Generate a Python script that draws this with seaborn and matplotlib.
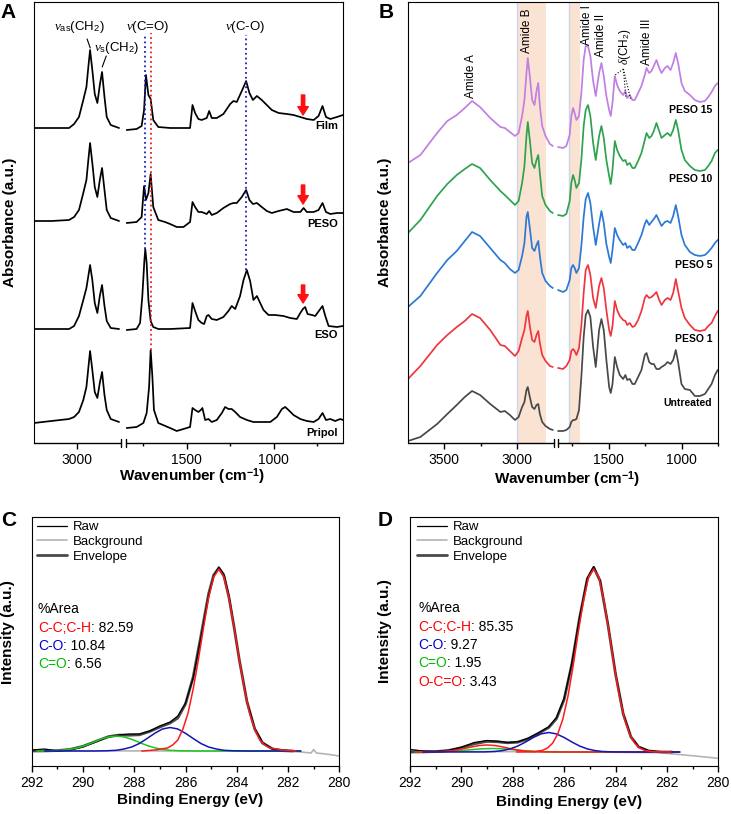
import numpy as np
import pandas as pd
import matplotlib
matplotlib.use("Agg")
import matplotlib.pyplot as plt
import seaborn as sns

# ---------------- Panel A: FTIR, Pripol / ESO / PESO / Film ----------------
a_left_wn = [3250, 3150, 3048, 3019, 2991, 2966, 2948, 2937, 2927, 2914, 2900,
             2885, 2871, 2858, 2844, 2831, 2808, 2760]
film_left = [0, 0, 0, 4, 11, 28, 41, 61, 78, 58, 34, 25, 43, 56, 31, 11, 3, 0]
peso_left = [0, 0, 1, 4, 11, 28, 41, 61, 78, 58, 34, 24, 41, 53, 31, 11, 3, 0]
eso_left = [0, 0, 0, 3, 13, 29, 41, 53, 64, 49, 26, 16, 33, 44, 23, 8, 1, 0]
pripol_left = [1, 3, 5, 7, 12, 24, 37, 56, 73, 54, 32, 26, 41, 52, 29, 14, 5, 2]

film_right_wn = [1846, 1789, 1760, 1746, 1735, 1721, 1708, 1693, 1664, 1596, 1481,
                 1467, 1452, 1433, 1414, 1385, 1371, 1356, 1327, 1289, 1250, 1231,
                 1212, 1183, 1158, 1139, 1119, 1096, 1068, 1039, 1010, 971, 923,
                 885, 846, 808, 769, 741, 718, 698, 673, 635, 600]
film_right = [-2, -1, 2, 18, 53, 33, 29, 8, 1, 0, 0, 23, 15, 9, 8, 10, 17, 10, 10,
              14, 24, 27, 26, 37, 47, 35, 28, 32, 28, 23, 18, 15, 14, 13, 11, 9, 8,
              12, 22, 11, 9, 11, 13]

peso_right_wn = [1846, 1789, 1760, 1746, 1735, 1721, 1708, 1693, 1664, 1625, 1596,
                 1558, 1519, 1481, 1467, 1452, 1433, 1414, 1385, 1371, 1356, 1327,
                 1289, 1250, 1231, 1212, 1183, 1158, 1139, 1119, 1096, 1068, 1039,
                 1010, 971, 923, 885, 846, 827, 808, 769, 741, 718, 698, 673, 635, 600]
peso_right = [-2, -1, 4, 35, 21, 28, 47, 14, 1, -1, -3, -6, -6, -1, 19, 14, 9, 9, 7,
              10, 6, 8, 13, 17, 18, 18, 24, 31, 21, 17, 18, 14, 10, 8, 10, 12, 9, 9,
              13, 9, 9, 11, 18, 9, 7, 8, 8]

eso_right_wn = [1846, 1789, 1769, 1756, 1744, 1739, 1731, 1721, 1708, 1693, 1664,
                1596, 1481, 1467, 1452, 1433, 1414, 1400, 1385, 1375, 1356, 1327,
                1289, 1260, 1241, 1221, 1193, 1173, 1154, 1135, 1116, 1096, 1077,
                1058, 1029, 991, 943, 904, 866, 846, 831, 818, 804, 779, 760, 735,
                718, 702, 683, 635, 600]
eso_right = [-1, 0, 6, 33, 69, 80, 66, 29, 8, 2, 0, 0, 1, 26, 18, 9, 6, 5, 13, 14,
             10, 9, 12, 18, 23, 20, 33, 49, 59, 48, 29, 33, 26, 19, 14, 14, 13, 11,
             10, 16, 20, 22, 15, 14, 13, 19, 23, 13, 3, 2, 3]

pripol_right_wn = [1846, 1789, 1750, 1731, 1717, 1708, 1698, 1689, 1664, 1596, 1558,
                   1519, 1481, 1467, 1452, 1433, 1419, 1410, 1394, 1375, 1356, 1327,
                   1298, 1279, 1260, 1241, 1221, 1193, 1154, 1116, 1058, 1019, 981,
                   952, 933, 914, 885, 846, 808, 769, 741, 718, 698, 673, 645, 616, 600]
pripol_right = [-4, -3, 1, 11, 37, 74, 47, 14, 1, -4, -7, -5, -3, 16, 14, 12, 14, 16,
                4, 5, 2, 4, 11, 17, 15, 15, 12, 7, 4, 2, 2, 2, 7, 15, 17, 14, 9, 5,
                3, 2, 5, 11, 4, 5, 3, 5, 4]

a_names = ["Film", "PESO", "ESO", "Pripol"]

# ---------------- Panel B: FTIR, treated samples ----------------
b_left_wn = [3750, 3665, 3550, 3480, 3415, 3360, 3310, 3255, 3185, 3115, 3085, 3050,
             3015, 2990, 2966, 2950, 2936, 2927, 2913, 2897, 2881, 2867, 2855, 2844,
             2828, 2805, 2775, 2755]
b_right_wn = [1849, 1815, 1792, 1769, 1758, 1746, 1735, 1723, 1705, 1689, 1673, 1659,
              1643, 1627, 1608, 1590, 1567, 1551, 1535, 1517, 1498, 1487, 1475, 1459,
              1443, 1425, 1402, 1386, 1374, 1356, 1338, 1322, 1299, 1276, 1253, 1241,
              1223, 1207, 1191, 1173, 1154, 1138, 1115, 1097, 1076, 1058, 1040, 1024,
              1001, 978, 943, 909, 874, 840, 817, 794, 771, 752]

peso15_left = [0, 8, 30, 42, 48, 55, 62, 56, 45, 36, 35, 31, 27, 30, 47, 63, 90, 105,
               87, 63, 58, 72, 80, 57, 37, 27, 19, 17]
peso10_left = [0, 13, 37, 49, 58, 64, 69, 65, 53, 42, 38, 33, 28, 32, 50, 67, 97, 111,
               93, 70, 65, 73, 78, 60, 37, 28, 22, 20]
peso5_left = [0, 11, 34, 47, 56, 66, 75, 71, 59, 47, 44, 38, 34, 37, 51, 64, 90, 95,
              79, 59, 56, 62, 66, 51, 34, 26, 21, 19]
peso1_left = [0, 13, 34, 44, 52, 58, 65, 61, 49, 34, 33, 28, 23, 28, 41, 49, 63, 68,
              53, 39, 37, 44, 48, 36, 24, 18, 13, 12]
untreated_left = [0, 4, 17, 27, 36, 44, 50, 46, 37, 29, 30, 26, 21, 24, 34, 39, 51,
                  54, 44, 34, 32, 36, 37, 27, 19, 15, 12, 11]

peso15_right = [16, 15, 17, 28, 47, 55, 50, 43, 47, 70, 103, 117, 117, 107, 82, 67,
                90, 100, 87, 67, 53, 47, 60, 87, 78, 72, 68, 72, 65, 68, 63, 63, 70,
                77, 88, 95, 90, 92, 97, 103, 95, 90, 95, 97, 93, 100, 110, 100, 80,
                72, 68, 63, 61, 62, 66, 71, 77, 80]
peso10_right = [18, 17, 19, 32, 50, 58, 53, 45, 50, 73, 107, 123, 128, 117, 90, 73,
                97, 107, 95, 73, 57, 49, 63, 92, 83, 77, 72, 73, 68, 70, 65, 65, 72,
                80, 93, 100, 95, 97, 102, 110, 102, 95, 98, 100, 97, 103, 113, 103,
                83, 73, 67, 63, 62, 63, 67, 72, 80, 83]
peso5_right = [17, 15, 17, 27, 39, 42, 39, 34, 39, 61, 90, 108, 114, 104, 80, 62, 83,
               96, 84, 63, 50, 44, 57, 79, 72, 67, 62, 64, 59, 61, 57, 57, 64, 72, 83,
               87, 82, 85, 88, 92, 86, 81, 85, 86, 84, 91, 102, 91, 72, 62, 55, 52,
               51, 52, 55, 59, 64, 67]
peso1_right = [11, 10, 13, 19, 28, 30, 28, 24, 31, 53, 86, 109, 114, 104, 81, 71, 93,
               101, 91, 69, 49, 43, 53, 78, 69, 63, 59, 58, 54, 56, 52, 53, 59, 68, 81,
               84, 81, 82, 84, 87, 79, 74, 79, 81, 79, 86, 100, 88, 71, 61, 54, 49,
               48, 49, 53, 56, 63, 68]
untreated_right = [10, 10, 11, 14, 19, 21, 21, 22, 31, 64, 104, 126, 131, 124, 94, 74,
                   111, 122, 111, 81, 54, 48, 57, 84, 74, 66, 62, 66, 61, 62, 57, 57,
                   64, 71, 86, 88, 79, 77, 77, 72, 72, 74, 76, 79, 77, 81, 91, 79, 57,
                   52, 51, 45, 45, 47, 52, 57, 66, 71]

b_names = ["PESO 15", "PESO 10", "PESO 5", "PESO 1", "Untreated"]
b_bands = [(2800, 3000), (1695, 1775)]

# ---------------- Panel C: XPS C1s (film) ----------------
c_env_ev = [292.0, 291.5, 291.0, 290.5, 290.0, 289.5, 289.0, 288.6, 288.2, 287.8,
            287.4, 287.0, 286.6, 286.3, 286.0, 285.7, 285.4, 285.1, 284.9, 284.7,
            284.5, 284.3, 284.1, 283.9, 283.6, 283.3, 283.0, 282.6, 282.2, 281.8]
c_envelope = [15, 15.1, 15.4, 16.6, 19.7, 24.6, 29.4, 30.9, 30.8, 31.2, 34.5, 39, 43,
              48, 62, 89, 130, 172, 191, 198, 190, 168, 138, 106, 64, 37, 23, 17,
              15.3, 15]
c_raw = [16, 17, 15, 16, 19, 24, 29, 31, 32, 32, 35, 40, 44, 50, 63, 88, 128, 170,
         190, 199, 192, 170, 139, 106, 65, 38, 24, 17, 16, 15]
c_bg_ev = [292.0, 291.0, 285.0, 282.0, 281.5, 281.1, 281.0, 280.9, 280.6, 280.3, 280.0]
c_background = [15.5, 15.2, 15.0, 14.8, 14.0, 13.0, 16.5, 13.0, 12.2, 11.2, 10.0]

c_cc_ev = [287.7, 287.2, 286.7, 286.5, 286.3, 286.1, 285.9, 285.7, 285.5, 285.3, 285.1,
           284.9, 284.7, 284.5, 284.3, 284.1, 283.9, 283.7, 283.5, 283.3, 283.1,
           282.9, 282.7, 282.2, 281.7]
c_cc = [15, 16, 18, 21, 26, 37, 53, 77, 106, 138, 168, 189, 197, 189, 168, 138, 106,
        77, 53, 37, 26, 21, 18, 16, 15]
c_co_ev = [291.5, 289.6, 289.1, 288.7, 288.4, 288.1, 287.8, 287.5, 287.2, 286.9, 286.6,
           286.3, 286.0, 285.7, 285.4, 285.1, 284.8, 284.5, 284.1, 283.6, 281.5]
c_co = [15, 15, 15.2, 15.7, 17, 19, 22.5, 27.5, 32.7, 37, 38.5, 37, 32.7, 27.5, 22.5,
        19, 17, 15.7, 15.2, 15, 15]
c_c_o_ev = [291.8, 291.2, 290.8, 290.5, 290.2, 289.9, 289.6, 289.3, 289.0, 288.7,
            288.4, 288.1, 287.8, 287.5, 287.2, 286.9, 286.6, 286.2, 285.5, 281.5]
c_c_o = [15, 15.2, 15.7, 16.6, 18.2, 20.5, 23.6, 26.7, 29.1, 30, 29.1, 26.7, 23.6,
         20.5, 18.2, 16.6, 15.7, 15.2, 15, 15]

c_species = ["C-C;C-H", "C-O", "C=O"]
c_area = [82.59, 10.84, 6.56]

# ---------------- Panel D: XPS C1s (treated) ----------------
d_env_ev = [292.0, 291.5, 291.0, 290.5, 290.0, 289.5, 289.0, 288.6, 288.2, 287.8,
            287.4, 287.0, 286.6, 286.3, 286.0, 285.7, 285.4, 285.1, 284.85, 284.6,
            284.3, 284.0, 283.7, 283.4, 283.1, 282.7, 282.2, 281.8]
d_envelope = [14, 14.1, 14.4, 15.5, 18.3, 22.2, 24.6, 24.2, 23.2, 23.8, 27.2, 32.6,
              38.5, 47.3, 66.5, 102, 148, 187, 198.6, 185, 142, 92, 52, 29, 19, 15,
              14, 14]
d_raw = [16.5, 15, 14.6, 15.8, 18.8, 23.5, 25.5, 24.8, 23.5, 24.3, 27.8, 33.2, 39.2,
         48.5, 68, 103, 149, 188, 199.5, 186, 143, 93, 53, 29.5, 19.5, 15.2, 14, 13.8]
d_bg_ev = [292.0, 291.7, 291.0, 286.0, 282.3, 281.3, 280.0]
d_background = [16.5, 15.3, 14.6, 14.2, 13.3, 11.0, 7.7]

d_cc_ev = [287.85, 287.15, 286.85, 286.65, 286.45, 286.25, 286.05, 285.85, 285.65,
           285.45, 285.25, 285.05, 284.85, 284.65, 284.45, 284.25, 284.05, 283.85,
           283.65, 283.45, 283.25, 283.05, 282.85, 282.55, 281.85]
d_cc = [14, 14.2, 15.6, 18, 22.8, 32, 47, 70, 100, 134, 165, 189, 197, 189, 165, 134,
        100, 70, 47, 32, 22.8, 18, 15.6, 14.2, 14]
d_co_ev = [291.5, 289.1, 288.7, 288.4, 288.1, 287.8, 287.5, 287.2, 286.9, 286.6, 286.3,
           286.0, 285.7, 285.4, 285.1, 284.8, 284.5, 284.1, 283.5, 281.5]
d_co = [14, 14.1, 14.5, 15.4, 17.1, 20, 24, 28.5, 32.1, 33.5, 32.1, 28.5, 24, 20,
        17.1, 15.4, 14.5, 14.1, 14, 14]
d_c_o_ev = [291.8, 291.3, 290.8, 290.4, 290.0, 289.6, 289.2, 288.8, 288.4, 288.0,
            287.6, 287.2, 286.8, 286.3, 285.5, 281.5]
d_c_o = [14, 14.1, 14.3, 14.7, 15.4, 16.4, 17.2, 17.5, 17.2, 16.4, 15.4, 14.7, 14.3,
         14.1, 14, 14]
d_oco_ev = [291.8, 291.2, 290.8, 290.5, 290.2, 289.9, 289.6, 289.3, 289.0, 288.7,
            288.4, 288.1, 287.8, 287.5, 287.2, 286.8, 286.0, 281.5]
d_oco = [14, 14.1, 14.4, 14.9, 15.9, 17.4, 19.1, 20.5, 21, 20.5, 19.1, 17.4, 15.9,
         14.9, 14.4, 14.1, 14, 14]

d_species = ["C-C;C-H", "C-O", "C=O", "O-C=O"]
d_area = [85.35, 9.27, 1.95, 3.43]

legend_labels = ["Raw", "Background", "Envelope"]

# ---------------- style ----------------
sns.set_style("ticks", rc={"axes.edgecolor": "black", "axes.linewidth": 1.0,
                           "xtick.color": "black", "ytick.color": "black",
                           "text.color": "black", "axes.labelcolor": "black"})
plt.rcParams["font.family"] = ["Liberation Sans", "DejaVu Sans"]
plt.rcParams["mathtext.fontset"] = "custom"
plt.rcParams["mathtext.rm"] = "Liberation Sans"
plt.rcParams["mathtext.it"] = "Liberation Serif:italic"
plt.rcParams["mathtext.bf"] = "Liberation Sans:bold"
plt.rcParams["lines.solid_joinstyle"] = "round"

W, H = 731, 814
fig = plt.figure(figsize=(W / 100, H / 100), dpi=100)


def px_axes(x0, y0, x1, y1):
    return fig.add_axes([x0 / W, 1 - y1 / H, (x1 - x0) / W, (y1 - y0) / H])


def broken(lo_end, hi_start, gap):
    span = hi_start - lo_end

    def fwd(w):
        w = np.asarray(w, dtype=float)
        return np.where(w >= hi_start, w - span + gap,
                        np.where(w <= lo_end, w, lo_end + (w - lo_end) * gap / span))

    def inv(u):
        u = np.asarray(u, dtype=float)
        return np.where(u >= lo_end + gap, u + span - gap,
                        np.where(u <= lo_end, u, lo_end + (u - lo_end) * span / gap))
    return fwd, inv


def draw(ax, x, y, color, lw=1.25, offset=0, **kw):
    df = pd.DataFrame({"x": x, "y": np.asarray(y, dtype=float) + offset})
    sns.lineplot(data=df, x="x", y="y", ax=ax, color=color, lw=lw,
                 sort=False, estimator=None, **kw)
    return ax.lines[-1]


def break_spine(ax, x0, lo_end, hi_start, x1):
    ax.spines["bottom"].set_visible(False)
    tr = ax.get_xaxis_transform()
    for a, b in [(x0, hi_start), (lo_end, x1)]:
        ax.plot([a, b], [0, 0], color="k", lw=1, transform=tr, clip_on=False)
    for w in (hi_start, lo_end):
        ax.plot([w, w], [-0.01, 0.01], color="k", lw=1, transform=tr, clip_on=False)


def ir_axes_finish(ax, lims, lo_end, hi_start, major, minor):
    fwd, inv = broken(lo_end, hi_start, 30)
    ax.set_xscale("function", functions=(fwd, inv))
    ax.set_xlim(*lims)
    ax.set_ylim(0, 441)
    ax.set_xticks(major)
    ax.set_xticks(minor, minor=True)
    ax.set_xticklabels([str(m) for m in major])
    ax.set_yticks([])
    ax.tick_params(axis="x", which="major", direction="out", length=4, width=1,
                   labelsize=10, pad=3)
    ax.tick_params(axis="x", which="minor", direction="out", length=2.5, width=1)
    break_spine(ax, lims[0], lo_end, hi_start, lims[1])
    ax.set_ylabel("Absorbance (a.u.)", fontsize=11, fontweight="bold")
    ax.set_xlabel(r"Wavenumber (cm$^{\mathbf{-1}}$)", fontsize=11, fontweight="bold")


# ================= Panel A =================
axA = px_axes(34, 2, 343, 443)
a_off = [315, 222, 114, 19]
a_left = [film_left, peso_left, eso_left, pripol_left]
a_right = [(film_right_wn, film_right), (peso_right_wn, peso_right),
           (eso_right_wn, eso_right), (pripol_right_wn, pripol_right)]
for off, left, (rwn, right) in zip(a_off, a_left, a_right):
    draw(axA, a_left_wn, left, "black", offset=off)
    draw(axA, rwn, right, "black", offset=off)

# guide lines to the carbonyl / C-O bands
axA.plot([1739, 1739], [194, 408], ls=":", color="#1c1cc8", lw=1.3)
axA.plot([1706, 1706], [93, 410], ls=":", color="#e8202a", lw=1.3)
axA.plot([1160, 1160], [173, 408], ls=":", color="#1c1cc8", lw=1.3)

axA.text(2990, 416, r"$\nu_{\mathrm{as}}$(CH$_2$)", ha="center", va="center", fontsize=9.5)
axA.text(2775, 395, r"$\nu_{\mathrm{s}}$(CH$_2$)", ha="center", va="center", fontsize=9.5)
axA.plot([2944, 2926], [404, 395], color="k", lw=0.8)
axA.plot([2834, 2857], [387, 376], color="k", lw=0.8)
axA.text(1723, 416, r"$\nu$(C=O)", ha="center", va="center", fontsize=9.5)
axA.text(1164, 416, r"$\nu$(C-O)", ha="center", va="center", fontsize=9.5)

for tip, tail in [(328, 348), (239, 258), (140, 158)]:
    axA.annotate("", xy=(830, tip), xytext=(830, tail),
                 arrowprops=dict(color="#ff1010", width=2.4, headwidth=7.5,
                                 headlength=6, shrink=0))

for name, yf in zip(a_names, [0.719, 0.497, 0.245, 0.023]):
    axA.text(0.984, yf, name, transform=axA.transAxes, ha="right", va="center",
             fontsize=8, fontweight="bold")

ir_axes_finish(axA, (3250, 600), 1850, 2750, [3000, 1500, 1000], [1750, 1250, 750])
axA.yaxis.set_label_coords(-0.055, 0.5)
axA.xaxis.set_label_coords(0.511, -0.052)

# ================= Panel B =================
axB = px_axes(408, 2, 718, 443)
for lo, hi in b_bands:
    axB.axvspan(lo, hi, color="#fbe3d3", lw=0, zorder=0)
    axB.axvline(hi, color="#cdd5ee", lw=1, zorder=0.5)

b_off = [280, 210, 136, 64, 2]
b_cols = ["#c07fe3", "#2ea24e", "#2c78d4", "#f0353f", "#484848"]
b_left = [peso15_left, peso10_left, peso5_left, peso1_left, untreated_left]
b_right = [peso15_right, peso10_right, peso5_right, peso1_right, untreated_right]
for off, col, left, right in zip(b_off, b_cols, b_left, b_right):
    draw(axB, b_left_wn, left, col, offset=off)
    draw(axB, b_right_wn, right, col, offset=off)

for txt, x, yb in [("Amide A", 3315, 345), ("Amide B", 2933, 390),
                   ("Amide I", 1649, 398), ("Amide II", 1551, 386),
                   (r"$\delta$(CH$_2$)", 1390, 378), ("Amide III", 1241, 378)]:
    axB.text(x, yb, txt, rotation=90, ha="center", va="bottom", fontsize=8.5)
for xe, ye in [(1457, 368), (1383, 345), (1349, 343)]:
    axB.plot([1400, xe], [374, ye], ls=":", color="k", lw=0.8)

for name, yf in zip(b_names, [0.755, 0.599, 0.404, 0.236, 0.091]):
    axB.text(0.981, yf, name, transform=axB.transAxes, ha="right", va="center",
             fontsize=7.5, fontweight="bold")

ir_axes_finish(axB, (3750, 750), 1850, 2750, [3500, 3000, 1500, 1000],
               [3250, 1750, 1250, 750])
axB.yaxis.set_label_coords(-0.052, 0.5)
axB.xaxis.set_label_coords(0.513, -0.059)


# ================= Panels C, D =================
def xps_panel(ax, raw_ev, raw, env, bg_ev, bg, comps, species, areas, sp_cols,
              rows, xt):
    bgl = draw(ax, bg_ev, bg, "#b4b4b4", lw=1.2)
    envl = draw(ax, raw_ev, env, "#4a4a4a", lw=2.0)
    rawl = draw(ax, raw_ev, raw, "black", lw=0.9)
    for ev, vals, col in comps:
        draw(ax, ev, vals, col, lw=1.1)
    ax.set_xlim(292, 280)
    ax.set_ylim(0, 249)
    ax.set_xticks(np.arange(292, 279, -2))
    ax.set_xticks(np.arange(291, 280, -2), minor=True)
    ax.set_yticks([])
    ax.tick_params(axis="x", which="major", direction="out", length=4, width=1,
                   labelsize=10, pad=3)
    ax.tick_params(axis="x", which="minor", direction="out", length=2.5, width=1)
    ax.set_xlabel("Binding Energy (eV)", fontsize=11, fontweight="bold")
    ax.set_ylabel("Intensity (a.u.)", fontsize=11, fontweight="bold")
    ax.legend(handles=[rawl, bgl, envl], labels=legend_labels, loc="upper left",
              bbox_to_anchor=(xt, 0.984), frameon=False, fontsize=9.5,
              handlelength=2.3, handletextpad=0.4, labelspacing=0.2,
              borderpad=0, borderaxespad=0)
    xt2 = xt + 0.003
    ax.text(xt2, rows[0], "%Area", transform=ax.transAxes, fontsize=10, va="center")
    for y, name, val, col in zip(rows[1:], species, areas, sp_cols):
        t = ax.text(xt2, y, name, color=col, transform=ax.transAxes, fontsize=10,
                    va="center")
        ax.annotate(f": {val:.2f}", xy=(1, 0.5), xycoords=t, va="center",
                    fontsize=10, color="black")


RED, BLUE, GREEN = "#ff1a1a", "#1414b4", "#1ec81e"

axC = px_axes(31.7, 517, 339.3, 766)
xps_panel(axC, c_env_ev, c_raw, c_envelope, c_bg_ev, c_background,
          [(c_c_o_ev, c_c_o, GREEN), (c_co_ev, c_co, BLUE), (c_cc_ev, c_cc, RED)],
          c_species, c_area, ["#ff0000", "#0000cc", "#00bb00"],
          [0.631, 0.556, 0.482, 0.410], 0.017)
axC.yaxis.set_label_coords(-0.054, 0.538)
axC.xaxis.set_label_coords(0.515, -0.108)

axD = px_axes(410, 517, 718.3, 766)
xps_panel(axD, d_env_ev, d_raw, d_envelope, d_bg_ev, d_background,
          [(d_c_o_ev, d_c_o, GREEN), (d_oco_ev, d_oco, RED),
           (d_co_ev, d_co, BLUE), (d_cc_ev, d_cc, RED)],
          d_species, d_area, ["#ff0000", "#0000cc", "#00bb00", "#ff0000"],
          [0.635, 0.558, 0.486, 0.414, 0.337], 0.023)
axD.yaxis.set_label_coords(-0.058, 0.54)
axD.xaxis.set_label_coords(0.516, -0.116)

# panel letters
for letter, x, y in [("A", 8.5, 13), ("B", 386, 13), ("C", 8.5, 521), ("D", 385, 521)]:
    fig.text(x / W, 1 - y / H, letter, ha="center", va="center", fontsize=15,
             fontweight="bold")

fig.savefig("out.png", dpi=100)
